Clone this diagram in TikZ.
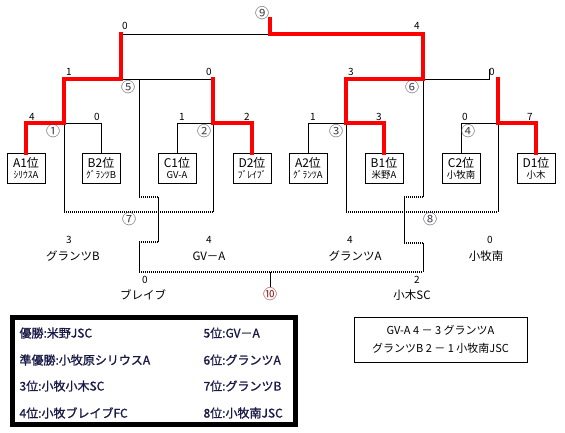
\documentclass[tikz,border=0pt]{standalone}
\usepackage{fontspec}
\setmainfont{Noto Sans CJK JP}
\newfontfamily\heavyjp{Noto Sans CJK JP}[FakeBold=1.2]
\definecolor{winred}{RGB}{255,0,0}
\definecolor{inkblue}{RGB}{25,25,70}
\definecolor{circgray}{RGB}{70,70,80}
\definecolor{circred}{RGB}{150,40,40}
\tikzset{
  teambox/.style={draw, line width=1pt, minimum width=38pt, minimum height=30pt,
    inner sep=0pt, align=center, anchor=north},
  win/.style={draw=winred, line width=4pt, line cap=rect},
  lose/.style={draw=black, line width=1pt},
  bye/.style={draw=black, line width=2pt, dash pattern=on 1pt off 1pt},
  score/.style={font=\fontsize{10}{10}\selectfont},
  mno/.style={font=\fontsize{14}{14}\selectfont, text=circgray},
  team/.style={font=\fontsize{11.5}{12}\selectfont},
  legend/.style={font=\heavyjp\fontsize{12}{13}\selectfont, text=inkblue, anchor=west}
}
\newcommand{\boxtext}[2]{\fontsize{12}{13}\selectfont #1\\[-1pt]\fontsize{9.5}{10}\selectfont #2}
\begin{document}
\begin{tikzpicture}[x=1pt, y=-1pt, line join=miter]
\useasboundingbox (0,0) rectangle (565,432);

% team boxes
\node[teambox] (A1) at (26,153) {\boxtext{A1位}{ｼﾘｳｽA}};
\node[teambox] (B2) at (101,153) {\boxtext{B2位}{ｸﾞﾗﾝﾂB}};
\node[teambox] (C1) at (177,153) {\boxtext{C1位}{GV-A}};
\node[teambox] (D2) at (252,153) {\boxtext{D2位}{ﾌﾞﾚｲﾌﾞ}};
\node[teambox] (A2) at (308,153) {\boxtext{A2位}{ｸﾞﾗﾝﾂA}};
\node[teambox] (B1) at (384,153) {\boxtext{B1位}{米野A}};
\node[teambox] (C2) at (461,153) {\boxtext{C2位}{小牧南}};
\node[teambox] (D1) at (536,153) {\boxtext{D1位}{小木}};

% junctions
\coordinate (m1) at (64,123);
\coordinate (m2) at (213,123);
\coordinate (m3) at (346,123);
\coordinate (m4) at (498,123);
\coordinate (s5) at (121,79);
\coordinate (s6) at (423,79);
\coordinate (t6) at (489,79);
\coordinate (f9) at (270,34);
\coordinate (top9) at (270,19);
\coordinate (d5) at (139,79);
\coordinate (l7) at (64,212);
\coordinate (r7) at (213,212);
\coordinate (l8) at (346,212);
\coordinate (r8) at (498,212);
\coordinate (f10) at (270,272);

% losing sides
\draw[lose] (B2.north) -- (B2.north |- m1) -- (m1);
\draw[lose] (C1.north) -- (C1.north |- m2) -- (m2);
\draw[lose] (A2.north) -- (A2.north |- m3) -- (m3);
\draw[lose] (C2.north) -- (C2.north |- m4) -- (m4);
\draw[lose] (s5) -- (m2 |- s5);
\draw[lose] (s6) -- (t6) -- ++(0,-10);
\draw[lose] (s5 |- f9) -- (f9);

% down to the places 5-8
\draw[lose] (m1) -- (l7);
\draw[lose] (m2) -- (r7);
\draw[lose] (m3) -- (l8);
\draw[lose] (m4) -- (r8);
\draw[bye] (l7) -- (r7);
\draw[bye] (l8) -- (r8);

% down to the 3rd place match
\draw[lose] (d5) -- (139,197);
\draw[bye] (139,197) -- (158,197);
\draw[lose] (158,197) -- (158,242);
\draw[bye] (158,242) -- (139,242);
\draw[lose] (139,242) -- (139,272);
\draw[bye] (139,272) -- (423,272);
\draw[lose] (423,272) -- (423,243);
\draw[bye] (423,243) -- (404,243);
\draw[lose] (404,243) -- (404,197);
\draw[bye] (404,197) -- (423,197);
\draw[lose] (423,197) -- (s6);
\draw[lose] (f10) -- ++(0,15);

% winners
\draw[win] (A1.north) -- (A1.north |- m1) -- (m1) -- (m1 |- s5) -- (s5) -- (s5 |- f9);
\draw[win] (D2.north) -- (D2.north |- m2) -- (m2) -- (m2 |- s5);
\draw[win] (B1.north) -- (B1.north |- m3) -- (m3) -- (m3 |- s6) -- (s6) -- (s6 |- f9) -- (f9) -- (top9);
\draw[win] (D1.north) -- (D1.north |- m4) -- (m4) -- (m4 |- s6);

% scores
\node[score] (sc1a) at (32,117) {4};
\node[score] (sc1b) at (97,117) {0};
\node[score] (sc2a) at (182,117) {1};
\node[score] (sc2b) at (247,117) {2};
\node[score] (sc3a) at (313,117) {1};
\node[score] (sc3b) at (379,117) {3};
\node[score] (sc4a) at (465,117) {0};
\node[score] (sc4b) at (530,117) {7};
\node[score] (sc5a) at (69,72) {1};
\node[score] (sc5b) at (209,72) {0};
\node[score] (sc6a) at (351,72) {3};
\node[score] (sc6b) at (492,72) {0};
\node[score] (sc9a) at (125,26) {0};
\node[score] (sc9b) at (417,26) {4};
\node[score] (sc7a) at (69,240) {3};
\node[score] (sc7b) at (209,240) {4};
\node[score] (sc8a) at (350,240) {4};
\node[score] (sc8b) at (490,240) {0};
\node[score] (sc10a) at (145,280) {0};
\node[score] (sc10b) at (417,280) {2};

% match numbers
\node[mno] (n1) at (53,131) {①};
\node[mno] (n2) at (204,131) {②};
\node[mno] (n3) at (336,131) {③};
\node[mno] (n4) at (468,131) {④};
\node[mno] (n5) at (128,87) {⑤};
\node[mno] (n6) at (412,87) {⑥};
\node[mno] (n7) at (129,219) {⑦};
\node[mno] (n8) at (430,219) {⑧};
\node[mno] (n9) at (262,13) {⑨};
\node[mno, text=circred] (n10) at (270,294) {⑩};

% team names below
\node[team] (t7a) at (73,256) {グランツB};
\node[team] (t7b) at (209,256) {GV－A};
\node[team] (t8a) at (355,256) {グランツA};
\node[team] (t8b) at (486,256) {小牧南};
\node[team] (t10a) at (143,295) {ブレイブ};
\node[team] (t10b) at (412,295) {小木SC};

% final standings
\draw[line width=5pt] (12.5,317.5) rectangle (295.5,424.5);
\node[legend] (p1) at (16,333) {優勝:米野JSC};
\node[legend] (p2) at (16,360) {準優勝:小牧原シリウスA};
\node[legend] (p3) at (16,386) {3位:小牧小木SC};
\node[legend] (p4) at (16,413) {4位:小牧ブレイブFC};
\node[legend] (p5) at (200,333) {5位:GV－A};
\node[legend] (p6) at (200,360) {6位:グランツA};
\node[legend] (p7) at (200,386) {7位:グランツB};
\node[legend] (p8) at (200,413) {8位:小牧南JSC};

% placement match results
\node[draw, line width=1pt, minimum width=173pt, minimum height=45pt, align=center,
  font=\fontsize{11}{18}\selectfont] (res) at (440.5,339.5)
  {GV-A 4 － 3 グランツA\\グランツB 2 － 1 小牧南JSC};
\end{tikzpicture}
\end{document}
